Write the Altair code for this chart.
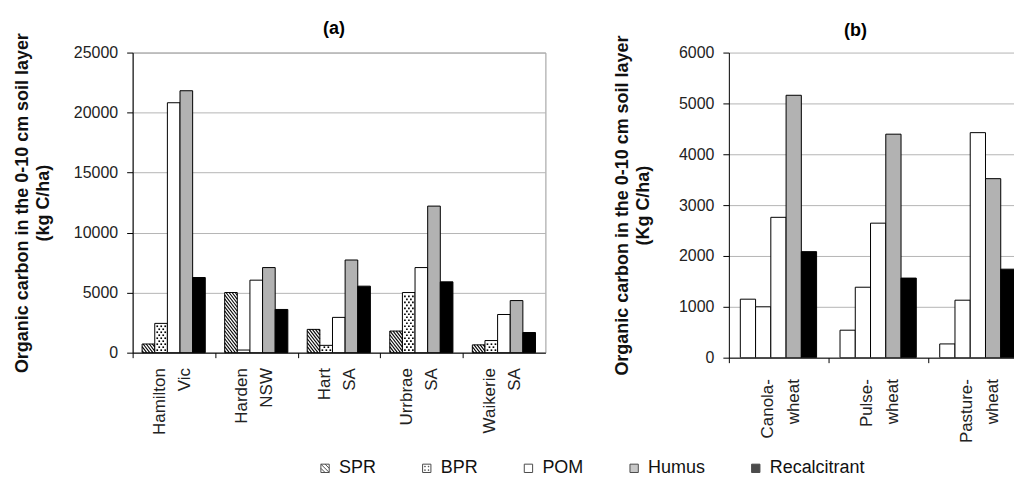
import altair as alt
import pandas as pd

# ---------------- data ----------------
SERIES = ["SPR", "BPR", "POM", "Humus", "Recalcitrant"]

SITES_A = [["Hamilton", "Vic"], ["Harden", "NSW"], ["Hart", "SA"], ["Urrbrae", "SA"], ["Waikerie", "SA"]]
SPR_A = [720, 5010, 1940, 1800, 650]
BPR_A = [2440, 220, 610, 5010, 1010]
POM_A = [20820, 6040, 2940, 7090, 3180]
HUMUS_A = [21820, 7090, 7720, 12210, 4340]
RECAL_A = [6260, 3600, 5540, 5900, 1680]

ROT_B = [["Canola-", "wheat"], ["Pulse-", "wheat"], ["Pasture-", "wheat"]]
SPR_B = [1150, 540, 270]
BPR_B = [1000, 1385, 1130]
POM_B = [2760, 2645, 4425]
HUMUS_B = [5160, 4395, 3520]
RECAL_B = [2085, 1565, 1740]

YTICKS_A = [0, 5000, 10000, 15000, 20000, 25000]
YTICKS_B = [0, 1000, 2000, 3000, 4000, 5000, 6000]

# ---------------- layout constants ----------------
FONT = "Liberation Sans"
W_A, H_A = 414, 301
W_B, H_B = 286, 306
BAND_B = 100.0
BAR_START, BAR_W = 0.115, 0.153
FILL_RANGE = ["white", "white", "white", "#b2b2b2", "black"]

SQ = "M-1,-1H1V1H-1Z"
SHAPES = [
    SQ + " M-1,-1L1,1 M-1,0L0,1 M0,-1L1,0",
    SQ + " M-0.5,-0.5h0.15v0.15h-0.15Z M0.35,0.35h0.15v0.15h-0.15Z M0.35,-0.5h0.15v0.15h-0.15Z M-0.5,0.35h0.15v0.15h-0.15Z",
    SQ, SQ, SQ,
]


def bar_frame(series_values):
    rows = []
    for si, (name, vals) in enumerate(zip(SERIES, series_values)):
        for gi, v in enumerate(vals):
            x0 = gi + BAR_START + si * BAR_W
            rows.append({"series": name, "order": si, "x0": x0, "x1": x0 + BAR_W, "value": v, "base": 0})
    return pd.DataFrame(rows)


bars_a = bar_frame([SPR_A, BPR_A, POM_A, HUMUS_A, RECAL_A])
bars_b = bar_frame([SPR_B, BPR_B, POM_B, HUMUS_B, RECAL_B])

# hatch lines for SPR bars in panel (a), derived from the bar values
kx = W_A / 5.0
ky = H_A / 25000.0
step, slope = 4.0, 1.3
hatch = []
for gi, v in enumerate(SPR_A):
    xa = gi + BAR_START
    Wp, Hp = BAR_W * kx, v * ky
    c = step / 2
    while c < Hp + slope * Wp:
        Xs = max(0.0, (c - Hp) / slope)
        Ys = c - slope * Xs
        Xe = min(Wp, c / slope)
        Ye = c - slope * Xe
        if Xe - Xs > 0.3:
            hatch.append({"x": xa + Xs / kx, "y": Ys / ky, "x2": xa + Xe / kx, "y2": Ye / ky})
        c += step
hatch = pd.DataFrame(hatch)

# dots for BPR bars in panel (a)
dots = []
for gi, v in enumerate(BPR_A):
    xa = gi + BAR_START + BAR_W
    Wp, Hp = BAR_W * kx, v * ky
    Y, row = 2.5, 0
    while Y < Hp - 1.5:
        X = 2.5 if row % 2 == 0 else 4.5
        while X < Wp - 1.5:
            dots.append({"x": xa + X / kx, "y": Y / ky})
            X += 4.0
        Y += 3.0
        row += 1
dots = pd.DataFrame(dots)

fill_scale = alt.Scale(domain=SERIES, range=FILL_RANGE)
shape_scale = alt.Scale(domain=SERIES, range=SHAPES)

LEGEND = alt.Legend(
    title=None, orient="none", legendX=184, legendY=408, direction="horizontal", columns=5,
    labelFont=FONT, labelFontSize=18, labelColor="#111", labelOffset=5, columnPadding=41,
    symbolSize=70, symbolStrokeColor="black", symbolStrokeWidth=1,
)


def label_expr(names):
    arr = "[" + ",".join("[" + ",".join("'" + s + "'" for s in pair) + "]" for pair in names) + "]"
    return f"{arr}[datum.value]"


def y_title(unit):
    return ["Organic carbon in the 0-10 cm soil layer", f"({unit} C/ha)"]


# ---------------- panel (a) ----------------
xa_scale = alt.Scale(domain=[0, 5], nice=False, zero=False)
ya_scale = alt.Scale(domain=[0, 25000], nice=False)

xa_axis = alt.Axis(
    values=[0, 1, 2, 3, 4], grid=False, title=None, tickSize=5, labelAngle=270,
    labelAlign="right", labelBaseline="middle", labelOffset=kx / 2 - 14.6, labelFlush=False,
    labelOverlap=False, labelPadding=10, labelExpr=label_expr(SITES_A),
    labelFontSize=17, labelLineHeight=25,
)
ya_axis = alt.Axis(
    values=YTICKS_A, grid=True, title=y_title("kg"), tickSize=6, labelPadding=9,
    titlePadding=21, format="d",
)

base_a = alt.Chart(bars_a)
bars_layer_a = base_a.mark_rect(stroke="black", strokeWidth=1).encode(
    x=alt.X("x0:Q", scale=xa_scale, axis=xa_axis),
    x2="x1:Q",
    y=alt.Y("value:Q", scale=ya_scale, axis=ya_axis),
    y2="base:Q",
    fill=alt.Fill("series:N", scale=fill_scale, legend=LEGEND),
)
hatch_layer = alt.Chart(hatch).mark_rule(color="black", strokeWidth=1.1).encode(
    x="x:Q", x2="x2:Q", y="y:Q", y2="y2:Q"
)
dots_layer = alt.Chart(dots).mark_square(size=2.8, color="black", opacity=1).encode(
    x="x:Q", y="y:Q"
)
legend_layer = base_a.mark_point(filled=True, stroke="black", strokeWidth=1, size=70).encode(
    x="x0:Q", y="value:Q",
    fill=alt.Fill("series:N", scale=fill_scale, legend=LEGEND),
    shape=alt.Shape("series:N", scale=shape_scale, legend=LEGEND),
).transform_filter("false")

panel_a = alt.layer(bars_layer_a, hatch_layer, dots_layer, legend_layer).properties(
    width=W_A, height=H_A,
    title=alt.TitleParams("(a)", font=FONT, fontSize=18, fontWeight="bold", frame="group",
                          anchor="middle", dx=-5, offset=-5),
    view=alt.ViewBackground(stroke="#999999", strokeWidth=1),
)

# ---------------- panel (b) ----------------
xb_scale = alt.Scale(domain=[0, W_B / BAND_B], nice=False, zero=False)
yb_scale = alt.Scale(domain=[0, 6000], nice=False)

xb_axis = alt.Axis(
    values=[0, 1, 2], grid=False, title=None, tickSize=5, labelAngle=270,
    labelAlign="right", labelBaseline="middle", labelOffset=BAND_B / 2 - 11.5, labelFlush=False,
    labelOverlap=False, labelPadding=16, labelExpr=label_expr(ROT_B),
    labelFontSize=17, labelLineHeight=26,
)
yb_axis = alt.Axis(
    values=YTICKS_B, grid=True, title=y_title("Kg"), tickSize=6, labelPadding=9,
    titlePadding=26, format="d",
)

panel_b = alt.Chart(bars_b).mark_rect(stroke="black", strokeWidth=1, clip=True).encode(
    x=alt.X("x0:Q", scale=xb_scale, axis=xb_axis),
    x2="x1:Q",
    y=alt.Y("value:Q", scale=yb_scale, axis=yb_axis),
    y2="base:Q",
    fill=alt.Fill("series:N", scale=fill_scale, legend=LEGEND),
).properties(
    width=W_B, height=H_B,
    title=alt.TitleParams("(b)", font=FONT, fontSize=18, fontWeight="bold", frame="group",
                          anchor="middle", dx=-16, offset=-5),
    view=alt.ViewBackground(stroke=None),
)

chart = alt.hconcat(panel_a, panel_b, spacing=67).resolve_scale(
    fill="shared", shape="shared"
).resolve_legend(fill="shared", shape="shared").properties(
    padding={"left": 5, "top": 10, "right": 0, "bottom": 0},
    background="white",
).configure_view(stroke=None).configure_axis(
    labelFont=FONT, labelFontSize=16, labelColor="#222",
    titleFont=FONT, titleFontSize=18, titleFontWeight="bold", titleColor="#111", titleLineHeight=21,
    domainColor="black", domainWidth=1, tickColor="black", tickWidth=1,
    gridColor="#b5b5b5", gridWidth=1,
)

chart.save("out.html", embed_options={"renderer": "svg", "actions": False})
